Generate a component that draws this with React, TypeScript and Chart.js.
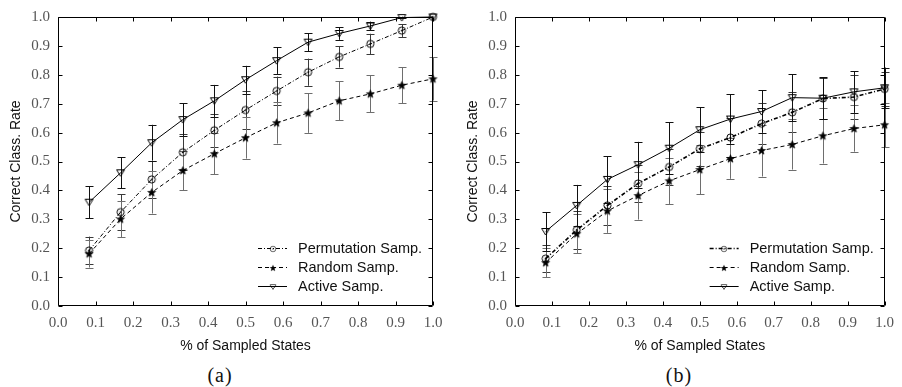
import React, { useEffect, useRef } from "react";
import { Chart, registerables } from "chart.js";

Chart.register(...registerables);

// ---------- data ----------
const X_VALUES = [0.083, 0.167, 0.25, 0.333, 0.417, 0.5, 0.583, 0.667, 0.75, 0.833, 0.917, 1.0];
const AXIS_TICKS = [0, 0.1, 0.2, 0.3, 0.4, 0.5, 0.6, 0.7, 0.8, 0.9, 1.0];
const AXIS_TICK_LABELS = ["0.0", "0.1", "0.2", "0.3", "0.4", "0.5", "0.6", "0.7", "0.8", "0.9", "1.0"];
const SERIES_NAMES = ["Permutation Samp.", "Random Samp.", "Active Samp."];
const X_TITLE = "% of Sampled States";
const Y_TITLE = "Correct Class. Rate";

// panel (a)
const A_PERM = [0.192, 0.325, 0.438, 0.532, 0.608, 0.678, 0.744, 0.809, 0.862, 0.907, 0.953, 1.0];
const A_PERM_ERR = [0.048, 0.062, 0.063, 0.063, 0.058, 0.066, 0.05, 0.047, 0.037, 0.035, 0.022, 0.0];
const A_RAND = [0.181, 0.301, 0.393, 0.469, 0.527, 0.582, 0.634, 0.668, 0.71, 0.734, 0.764, 0.786];
const A_RAND_ERR = [0.048, 0.063, 0.073, 0.069, 0.071, 0.072, 0.072, 0.069, 0.068, 0.064, 0.062, 0.075];
const A_ACT = [0.359, 0.461, 0.565, 0.645, 0.71, 0.783, 0.849, 0.913, 0.943, 0.969, 0.998, 1.0];
const A_ACT_ERR = [0.055, 0.053, 0.062, 0.056, 0.055, 0.048, 0.046, 0.031, 0.022, 0.015, 0.003, 0.0];

// panel (b)
const B_PERM = [0.164, 0.263, 0.348, 0.424, 0.481, 0.544, 0.583, 0.631, 0.67, 0.718, 0.723, 0.751];
const B_PERM_ERR = [0.048, 0.065, 0.068, 0.063, 0.063, 0.059, 0.068, 0.07, 0.069, 0.072, 0.076, 0.06];
const B_RAND = [0.15, 0.25, 0.329, 0.382, 0.433, 0.472, 0.51, 0.538, 0.559, 0.589, 0.614, 0.627];
const B_RAND_ERR = [0.05, 0.068, 0.076, 0.083, 0.08, 0.085, 0.07, 0.09, 0.087, 0.096, 0.08, 0.077];
const B_ACT = [0.258, 0.348, 0.438, 0.489, 0.546, 0.61, 0.647, 0.673, 0.721, 0.719, 0.741, 0.755];
const B_ACT_ERR = [0.067, 0.071, 0.08, 0.079, 0.09, 0.078, 0.085, 0.073, 0.081, 0.073, 0.072, 0.07];

// ---------- markers ----------
function makeMarker(kind: string): HTMLCanvasElement {
  const c = document.createElement("canvas");
  c.width = 11;
  c.height = 11;
  const g = c.getContext("2d")!;
  g.strokeStyle = "#000";
  g.fillStyle = "#000";
  g.lineWidth = 1;
  if (kind === "circle") {
    g.beginPath();
    g.arc(5.5, 5.5, 3.6, 0, Math.PI * 2);
    g.stroke();
    g.beginPath();
    g.arc(5.5, 5.5, 0.9, 0, Math.PI * 2);
    g.fill();
  } else if (kind === "star") {
    g.beginPath();
    for (let i = 0; i < 10; i++) {
      const r = i % 2 === 0 ? 4.2 : 1.8;
      const a = -Math.PI / 2 + (i * Math.PI) / 5;
      const px = 5.5 + r * Math.cos(a);
      const py = 5.8 + r * Math.sin(a);
      if (i === 0) g.moveTo(px, py);
      else g.lineTo(px, py);
    }
    g.closePath();
    g.fill();
    g.lineWidth = 0.6;
    g.stroke();
  } else {
    g.beginPath();
    g.moveTo(1.5, 2.5);
    g.lineTo(9.5, 2.5);
    g.lineTo(5.5, 9.0);
    g.closePath();
    g.stroke();
  }
  return c;
}

// ---------- plugins ----------
const errorBarPlugin = {
  id: "errorBars",
  beforeDatasetsDraw(chart: any) {
    const ctx = chart.ctx;
    const xs = chart.scales.x;
    const ys = chart.scales.y;
    ctx.save();
    chart.data.datasets.forEach((ds: any) => {
      ctx.strokeStyle = ds.errorColor;
      ctx.lineWidth = 1;
      ds.data.forEach((pt: any, j: number) => {
        const e = ds.errors[j];
        if (!e) return;
        const x = Math.round(xs.getPixelForValue(pt.x)) + 0.5;
        const y1 = ys.getPixelForValue(pt.y + e);
        const y2 = ys.getPixelForValue(pt.y - e);
        ctx.beginPath();
        ctx.moveTo(x, y1);
        ctx.lineTo(x, y2);
        ctx.moveTo(x - 4, Math.round(y1) + 0.5);
        ctx.lineTo(x + 4, Math.round(y1) + 0.5);
        ctx.moveTo(x - 4, Math.round(y2) + 0.5);
        ctx.lineTo(x + 4, Math.round(y2) + 0.5);
        ctx.stroke();
      });
    });
    ctx.restore();
  },
};

const framePlugin = {
  id: "frameTicks",
  afterDraw(chart: any) {
    const ctx = chart.ctx;
    const { left, right, top, bottom } = chart.chartArea;
    const xs = chart.scales.x;
    const ys = chart.scales.y;
    ctx.save();
    ctx.strokeStyle = "#000";
    ctx.lineWidth = 1;
    const L = Math.round(left) + 0.5;
    const R = Math.round(right) - 0.5;
    const T = Math.round(top) + 0.5;
    const B = Math.round(bottom) - 0.5;
    ctx.beginPath();
    ctx.rect(L, T, R - L, B - T);
    const tl = 4;
    AXIS_TICKS.forEach((v) => {
      const x = Math.round(xs.getPixelForValue(v)) + 0.5;
      ctx.moveTo(x, B);
      ctx.lineTo(x, B - tl);
      ctx.moveTo(x, T);
      ctx.lineTo(x, T + tl);
      const y = Math.round(ys.getPixelForValue(v)) + 0.5;
      ctx.moveTo(L, y);
      ctx.lineTo(L + tl, y);
      ctx.moveTo(R, y);
      ctx.lineTo(R - tl, y);
    });
    ctx.stroke();
    ctx.restore();
  },
};

const legendPlugin = {
  id: "insideLegend",
  afterDraw(chart: any) {
    const ctx = chart.ctx;
    const { right, bottom } = chart.chartArea;
    ctx.save();
    chart.data.datasets.forEach((ds: any, i: number) => {
      const y = Math.round(bottom - 58.5 + i * 19.3) + 0.5;
      const x0 = right - 175;
      const x1 = right - 146;
      ctx.strokeStyle = "#000";
      ctx.lineWidth = ds.borderWidth;
      ctx.setLineDash(ds.borderDash || []);
      ctx.beginPath();
      ctx.moveTo(x0, y);
      ctx.lineTo(x1, y);
      ctx.stroke();
      ctx.setLineDash([]);
      const m = ds.pointStyle as HTMLCanvasElement;
      const s = 8;
      ctx.drawImage(m, Math.round((x0 + x1) / 2 - s / 2), Math.round(y - s / 2), s, s);
      ctx.fillStyle = "#111";
      ctx.font = "14.5px 'Liberation Sans', sans-serif";
      ctx.textBaseline = "middle";
      ctx.textAlign = "left";
      ctx.fillText(ds.label, right - 135, y + 0.5);
    });
    ctx.restore();
  },
};

type PanelProps = {
  perm: number[];
  permErr: number[];
  rand: number[];
  randErr: number[];
  act: number[];
  actErr: number[];
  left: number;
  yAxisWidth: number;
  rightPad: number;
  yTitlePad: number;
  permWidth: number;
  caption: string;
  captionX: number;
};

const CW = 451;
const CH = 360;

function Panel(p: PanelProps) {
  const ref = useRef<HTMLCanvasElement | null>(null);
  useEffect(() => {
    if (!ref.current) return;
    const circle = makeMarker("circle");
    const star = makeMarker("star");
    const tri = makeMarker("tri");
    const toPts = (ys: number[]) => ys.map((y, i) => ({ x: X_VALUES[i], y }));
    const tickFont = { family: "'Liberation Serif', 'Times New Roman', serif", size: 15 };
    const titleFont = { family: "'Liberation Sans', Arial, sans-serif", size: 14 };
    const chart = new Chart(ref.current, {
      type: "line",
      data: {
        datasets: [
          {
            label: SERIES_NAMES[0],
            data: toPts(p.perm),
            errors: p.permErr,
            errorColor: "#3a3a3a",
            borderColor: "#000",
            borderWidth: p.permWidth,
            borderDash: [4, 2, 1, 2],
            pointStyle: circle,
            pointRadius: 4,
            clip: false,
            fill: false,
            tension: 0,
          } as any,
          {
            label: SERIES_NAMES[1],
            data: toPts(p.rand),
            errors: p.randErr,
            errorColor: "#6e6e6e",
            borderColor: "#000",
            borderWidth: 1,
            borderDash: [4, 3],
            pointStyle: star,
            pointRadius: 4,
            clip: false,
            fill: false,
            tension: 0,
          } as any,
          {
            label: SERIES_NAMES[2],
            data: toPts(p.act),
            errors: p.actErr,
            errorColor: "#111",
            borderColor: "#000",
            borderWidth: 1,
            borderDash: [],
            pointStyle: tri,
            pointRadius: 4,
            clip: false,
            fill: false,
            tension: 0,
          } as any,
        ],
      },
      options: {
        responsive: false,
        animation: false,
        devicePixelRatio: 1,
        events: [],
        layout: { padding: { left: 0, right: p.rightPad, top: 11, bottom: 0 } },
        plugins: {
          legend: { display: false },
          tooltip: { enabled: false },
        },
        scales: {
          x: {
            type: "linear",
            min: 0,
            max: 1,
            afterBuildTicks: (s: any) => {
              s.ticks = AXIS_TICKS.map((v) => ({ value: v }));
            },
            afterFit: (s: any) => {
              s.height = 54;
            },
            grid: { display: false, drawTicks: false },
            border: { display: false },
            ticks: {
              callback: (_v: any, i: number) => AXIS_TICK_LABELS[i],
              font: tickFont,
              color: "#555",
              padding: 8,
              maxRotation: 0,
              autoSkip: false,
            },
            title: {
              display: true,
              text: X_TITLE,
              font: titleFont,
              color: "#111",
              padding: { top: 0, bottom: 5.5 },
            },
          },
          y: {
            type: "linear",
            min: 0,
            max: 1,
            afterBuildTicks: (s: any) => {
              s.ticks = AXIS_TICKS.map((v) => ({ value: v }));
            },
            afterFit: (s: any) => {
              s.width = p.yAxisWidth;
            },
            grid: { display: false, drawTicks: false },
            border: { display: false },
            ticks: {
              callback: (_v: any, i: number) => AXIS_TICK_LABELS[i],
              font: tickFont,
              color: "#555",
              padding: 8,
              autoSkip: false,
            },
            title: {
              display: true,
              text: Y_TITLE,
              font: titleFont,
              color: "#111",
              padding: { top: p.yTitlePad, bottom: 0 },
            },
          },
        },
      } as any,
      plugins: [errorBarPlugin, framePlugin, legendPlugin],
    });
    return () => chart.destroy();
  }, []);

  return (
    <>
      <canvas
        ref={ref}
        width={CW}
        height={CH}
        style={{ position: "absolute", left: p.left, top: 0, width: CW, height: CH }}
      />
      <div
        style={{
          position: "absolute",
          left: p.captionX - 50,
          top: 363,
          width: 100,
          textAlign: "center",
          fontFamily: "'Liberation Serif', 'Times New Roman', serif",
          fontSize: 20,
          letterSpacing: "1px",
          lineHeight: "24px",
          color: "#111",
        }}
      >
        {p.caption}
      </div>
    </>
  );
}

export default function App() {
  return (
    <div
      style={{
        position: "absolute",
        left: 0,
        top: 0,
        width: 902,
        height: 387,
        background: "#fff",
        overflow: "hidden",
      }}
    >
      <Panel
        perm={A_PERM}
        permErr={A_PERM_ERR}
        rand={A_RAND}
        randErr={A_RAND_ERR}
        act={A_ACT}
        actErr={A_ACT_ERR}
        left={0}
        yAxisWidth={58}
        rightPad={18}
        yTitlePad={7.6}
        permWidth={1}
        caption="(a)"
        captionX={220}
      />
      <Panel
        perm={B_PERM}
        permErr={B_PERM_ERR}
        rand={B_RAND}
        randErr={B_RAND_ERR}
        act={B_ACT}
        actErr={B_ACT_ERR}
        left={451}
        yAxisWidth={64}
        rightPad={11}
        yTitlePad={14}
        permWidth={1.6}
        caption="(b)"
        captionX={679}
      />
    </div>
  );
}
